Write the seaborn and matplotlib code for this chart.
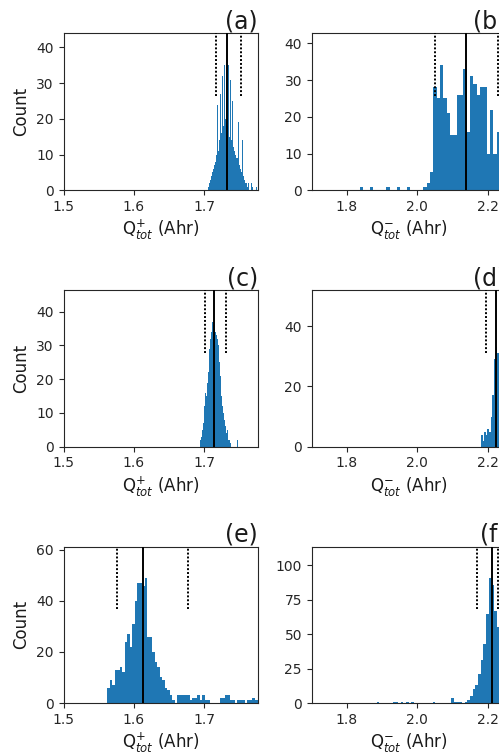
import numpy as np
import pandas as pd
import matplotlib
matplotlib.use("Agg")
import matplotlib.pyplot as plt
import seaborn as sns

# ---------------- data ----------------
PANELS = ["(a)", "(b)", "(c)", "(d)", "(e)", "(f)"]

# histogram bins: first left edge, bin width, counts per bin
a_start, a_width = 1.705, 0.001
a_counts = [1, 2, 2, 3, 4, 5, 5, 6, 7, 7, 8, 9, 10, 24, 11, 13, 14, 27, 15, 16,
            32, 18, 19, 35, 20, 22, 19, 18, 17, 35, 15, 31, 14, 14, 25, 13, 12, 11, 20, 10,
            9, 9, 8, 19, 7, 6, 6, 5, 14, 5, 4, 3, 3, 2, 2, 3, 1, 2, 0, 1,
            0, 2, 0, 1, 0, 0, 1, 0, 1, 0]

b_start, b_width = 1.8367, 0.0095
b_counts = [1, 0, 0, 1, 0, 0, 0, 0, 1, 0, 0, 1, 0, 0, 1, 0, 0, 0, 0, 1,
            2, 5, 28, 25, 34, 25, 21, 15, 15, 26, 26, 33, 16, 31, 29, 26, 28, 28, 10, 22,
            10, 16, 14]

c_start, c_width = 1.693, 0.001
c_counts = [1, 2, 3, 4, 5, 7, 8, 12, 16, 15, 17, 19, 22, 25, 29, 32, 34, 36, 37, 36,
            35, 35, 34, 34, 33, 32, 30, 27, 25, 21, 22, 15, 12, 10, 7, 8, 6, 4, 4, 5,
            3, 2, 2, 1, 1, 0, 0, 0, 0, 0, 0, 0, 0, 2, 1, 0, 0, 0, 0, 0,
            0, 0, 0, 0, 0, 0, 0, 1, 0]

d_start, d_width = 2.181, 0.0047
d_counts = [4, 2, 5, 4, 6, 5, 10, 17, 29, 33, 31, 26, 30]

e_start, e_width = 1.5622, 0.00355
e_counts = [6, 9, 7, 13, 13, 14, 12, 24, 27, 22, 31, 40, 47, 47, 46, 49, 26, 26, 20, 16,
            14, 10, 9, 6, 5, 3, 1, 0, 3, 3, 3, 3, 3, 1, 2, 2, 3, 1, 3, 1,
            1, 0, 0, 0, 0, 2, 2, 3, 3, 1, 1, 0, 1, 1, 1, 0, 1, 1, 2, 1, 1]

f_start, f_width = 1.8844, 0.0076
f_counts = [1, 0, 0, 0, 0, 0, 1, 1, 0, 1, 0, 1, 0, 1, 0, 0, 0, 0, 0, 0,
            0, 1, 0, 0, 0, 0, 0, 0, 4, 1, 1, 1, 0, 1, 2, 5, 10, 13, 21, 31,
            43, 65, 91, 86, 67, 55]

# reference lines: solid (centre) and dotted (bounds)
solid_x = [1.7313, 2.138, 1.7138, 2.224, 1.6125, 2.2114]
dotted_x = [[1.7162, 1.7521], [2.0503, 2.2303], [1.701, 1.7304],
            [2.197, 2.252], [1.5756, 1.6773], [2.1714, 2.2303]]

y_max = [43.9, 42.7, 46.4, 52.0, 61.25, 113.6]
left_xticks = [1.5, 1.6, 1.7]
right_xticks = [1.8, 2.0, 2.2]
xlabel_left = r"Q$^{+}_{tot}$ (Ahr)"
xlabel_right = r"Q$^{-}_{tot}$ (Ahr)"

# ---------------- style ----------------
sns.set_style("ticks")
plt.rcParams["font.family"] = ["DejaVu Sans"]
plt.rcParams.update({
    "xtick.major.size": 3.5, "ytick.major.size": 3.5,
    "xtick.major.width": 0.8, "ytick.major.width": 0.8,
    "xtick.major.pad": 3.5, "ytick.major.pad": 3.5,
    "axes.linewidth": 0.8,
    "axes.edgecolor": "#262626",
    "xtick.color": "#262626", "ytick.color": "#262626",
    "text.color": "#1a1a1a", "axes.labelcolor": "#1a1a1a",
})

fig = plt.figure(figsize=(4.99, 7.56), dpi=100)

col_left = [0.1273, 0.6246]
col_w = 0.3898
row_bottom = [0.7483, 0.4091, 0.0701]
row_h = [0.2074, 0.2073, 0.2067]

hists = [(a_start, a_width, a_counts), (b_start, b_width, b_counts),
         (c_start, c_width, c_counts), (d_start, d_width, d_counts),
         (e_start, e_width, e_counts), (f_start, f_width, f_counts)]

for i, (start, width, counts) in enumerate(hists):
    r, c = divmod(i, 2)
    ax = fig.add_axes([col_left[c], row_bottom[r], col_w, row_h[r]])
    edges = start + width * np.arange(len(counts) + 1)
    df = pd.DataFrame({"x": edges[:-1] + width / 2,
                       "w": np.asarray(counts, dtype=float)})
    sns.histplot(data=df, x="x", weights="w", bins=list(edges), ax=ax,
                 color="#1f77b4", alpha=1.0, linewidth=0, edgecolor="none")
    ax.axvline(solid_x[i], color="black", lw=1.4, zorder=5)
    for xv in dotted_x[i]:
        ax.axvline(xv, ymin=0.6, ymax=1.0, color="black",
                   ls=(0, (1, 1)), lw=1.4, zorder=5)
    if c == 0:
        ax.set_xlim(1.5, 1.776)
        ax.set_xticks(left_xticks)
        ax.set_xticklabels([f"{t:.1f}" for t in left_xticks])
        ax.set_xlabel(xlabel_left, fontsize=12, labelpad=3)
        ax.set_ylabel("Count", fontsize=12, labelpad=4)
    else:
        ax.set_xlim(1.7, 2.253)
        ax.set_xticks(right_xticks)
        ax.set_xticklabels([f"{t:.1f}" for t in right_xticks])
        ax.set_xlabel(xlabel_right, fontsize=12, labelpad=3)
        ax.set_ylabel("")
    ax.set_ylim(0, y_max[i])
    ax.tick_params(labelsize=10)
    ax.set_title(PANELS[i], loc="right", fontsize=17, pad=3)

fig.savefig("out.png", dpi=100)
